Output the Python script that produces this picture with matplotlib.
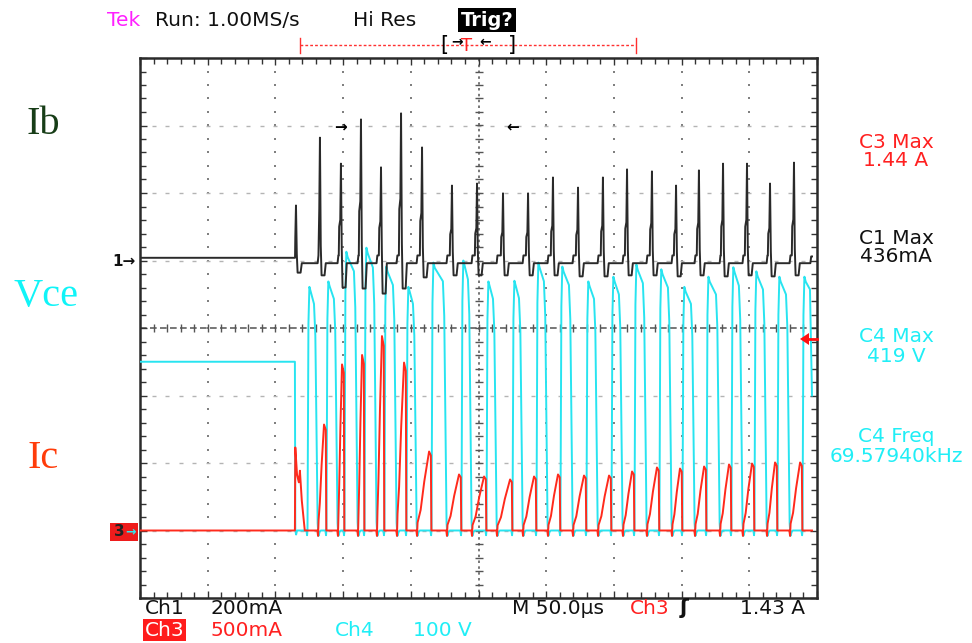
import numpy as np
import matplotlib.pyplot as plt
from matplotlib.lines import Line2D
from matplotlib.patches import Rectangle, Polygon

plt.rcParams['font.family'] = ['DejaVu Sans']

W, H = 972, 643

# scope settings (per division)
us_per_div = 50.0
ib_per_div = 200.0    # mA
ic_per_div = 0.5      # A
vce_per_div = 100.0   # V
ib_ref, ic_ref, vce_ref = 1.0, -3.0, -3.0   # ground markers, in divisions

# one entry per switching cycle, times in us from the left edge of the screen
t_spike = [115.2, 132.9, 148.4, 163.2, 178.0, 192.8, 208.3, 230.4, 248.9, 268.1, 286.6,
           305.0, 323.5, 341.9, 359.7, 378.1, 395.9, 412.8, 430.6, 448.3, 465.3, 483.0]
t_on = [114.5, 131.5, 146.2, 161.0, 175.0, 189.8, 204.6, 226.7, 245.2, 263.7, 282.9,
        301.3, 319.8, 338.3, 356.7, 374.4, 392.9, 409.9, 428.4, 445.3, 463.1, 480.1]
t_vrise = [124.1, 138.1, 151.4, 166.2, 180.9, 197.2, 215.7, 237.8, 256.3, 275.5, 293.2,
           310.9, 330.1, 348.6, 365.6, 384.0, 401.0, 418.8, 437.2, 454.2, 471.2, 489.7]
ib_peak_ma = [163, 364, 287, 418, 276, 436, 335, 222, 228, 199, 199,
              246, 216, 246, 270, 264, 222, 267, 287, 287, 228, 290]
ib_dip_ma = [-36, -44, -80, -83, -98, -83, -50, -44, -44, -44, -44,
             -44, -47, -47, -44, -44, -47, -44, -47, -44, -47, -44]
ic_peak_a = [0.615, 0.785, 1.23, 1.30, 1.44, 1.244, 0.585, 0.415, 0.40, 0.378, 0.40,
             0.415, 0.407, 0.407, 0.437, 0.467, 0.459, 0.474, 0.489, 0.496, 0.504, 0.504]
vce_peak_v = [361, 369, 413, 419, 391, 361, 397, 400, 369, 370, 397,
              391, 369, 376, 394, 387, 361, 376, 390, 384, 376, 376]
vce_idle_v = 250
ib_idle_ma = 8
t_end = 496.3
vce_end_v = 200

n = len(t_spike)


def add(ts, vs, pts):
    for t, v in pts:
        if t > ts[-1]:
            ts.append(t)
            vs.append(v)


# Ib (ch1)
ib_t, ib_v = [0.0], [ib_idle_ma]
for i in range(n):
    s, on, p, d = t_spike[i], t_on[i], ib_peak_ma[i], ib_dip_ma[i]
    pts = [(on - 0.3, -8), (on + 0.3, 15)] if i > 0 else [(on, ib_idle_ma)]
    pts += [(s - 1.6, 15), (s - 1.3, 0.35 * p), (s - 0.5, 0.42 * p), (s, p),
            (s + 0.6, 0.12 * p), (s + 1.2, d), (s + 3.4, d), (s + 4.3, -8)]
    add(ib_t, ib_v, pts)
add(ib_t, ib_v, [(t_end - 1.2, -8), (t_end - 0.6, 12), (t_end, 12)])

# Ic (ch3)
ic_t, ic_v = [0.0], [0.0]
for i in range(n):
    on, r, p = t_on[i], t_vrise[i], ic_peak_a[i]
    if i == 0:
        pts = [(on - 0.1, 0), (on + 0.2, p), (on + 1.5, 0.67 * p), (on + 2.8, 0.58 * p),
               (on + 3.6, 0.72 * p), (on + 5.0, 0.36 * p), (on + 7.2, 0.0)]
    else:
        pk = r - 2.2
        d = pk - on
        pts = [(on - 0.5, 0), (on, -0.04), (on + 0.4, 0.1 * p), (on + 0.3 * d, 0.26 * p),
               (on + 0.6 * d, 0.62 * p), (pk, p), (r - 0.9, 0.95 * p), (r - 0.5, 0.0)]
    add(ic_t, ic_v, pts)
add(ic_t, ic_v, [(t_end, 0.0)])

# Vce (ch4)
v_t, v_v = [0.0], [vce_idle_v]
add(v_t, v_v, [(t_on[0] - 0.1, vce_idle_v), (t_on[0] + 0.2, 0), (t_on[0] + 0.8, -6), (t_on[0] + 1.5, 0)])
for i in range(n):
    r, p = t_vrise[i], vce_peak_v[i]
    pts = [(r - 1.2, 0), (r - 0.7, -7), (r - 0.4, 0), (r + 0.3, 0.85 * p), (r + 1.0, p), (r + 2.0, 0.98 * p)]
    if i + 1 < n:
        f = t_on[i + 1]
        pts += [(f - 3.0, 0.93 * p), (f - 2.0, 0.8 * p), (f - 0.3, 0.03 * p),
                (f + 0.3, -8), (f + 1.2, -2), (f + 2.0, 0)]
    else:
        pts += [(t_end - 1.5, 0.95 * p), (t_end, vce_end_v)]
    add(v_t, v_v, pts)

fig = plt.figure(figsize=(W / 100, H / 100), dpi=100)
fig.patch.set_facecolor('white')
ax = fig.add_axes([140 / W, (H - 598) / H, (817 - 140) / W, (598 - 58) / H])
ax.set_xlim(0, 10 * us_per_div)
ax.set_ylim(-4, 4)

# graticule
for sp in ax.spines.values():
    sp.set_color('#2a2a2a')
    sp.set_linewidth(1.8)
ax.set_xticks(np.arange(0, 501, 50))
ax.set_yticks(np.arange(-4, 4.01, 1))
ax.set_xticks(np.arange(0, 501, 10), minor=True)
ax.set_yticks(np.arange(-4, 4.01, 0.2), minor=True)
ax.tick_params(which='both', direction='in', top=True, right=True, labelbottom=False,
               labelleft=False, color='#333333', width=1.0)
ax.tick_params(which='major', length=5)
ax.tick_params(which='minor', length=4)

ydots = np.arange(-3.8, 3.9, 0.2)
for k in range(1, 10):
    if k == 5:
        continue
    ax.plot(np.full_like(ydots, k * us_per_div), ydots, ls='none', marker='s', ms=1.5,
            color='#808080', mew=0, zorder=1)
xdots = np.arange(10, 500, 10)
for k in range(-3, 4):
    if k == 0:
        continue
    ax.plot(xdots, np.full_like(xdots, k, dtype=float), ls='none', marker='_', ms=3,
            color='#b4b4b4', mew=1.0, zorder=1)
ax.axhline(0, color='#606060', lw=1.2, dashes=(4, 2), zorder=1)
ax.axvline(250, color='#606060', lw=1.2, dashes=(1.5, 2), zorder=1)
ax.plot(xdots, np.zeros_like(xdots, dtype=float), ls='none', marker='|', ms=6, color='#555555', mew=1, zorder=1)
ax.plot(np.full_like(ydots, 250.0), ydots, ls='none', marker='_', ms=6, color='#555555', mew=1, zorder=1)

# traces
ax.plot(v_t, vce_ref + np.array(v_v) / vce_per_div, color='#28e4f0', lw=1.4, zorder=3)
ax.plot(ic_t, ic_ref + np.array(ic_v) / ic_per_div, color='#ff2a1c', lw=1.4, zorder=4)
ax.plot(ib_t, ib_ref + np.array(ib_v) / ib_per_div, color='#2a2a2a', lw=1.4, zorder=5)


def ft(x, y, s, **kw):
    kw.setdefault('va', 'center')
    kw.setdefault('ha', 'left')
    return fig.text(x / W, 1 - y / H, s, **kw)


# header
ft(107, 20, 'Tek', color='#ff20ff', fontsize=14.5)
ft(155, 20, 'Run: 1.00MS/s', color='#111111', fontsize=14.5)
ft(353, 20, 'Hi Res', color='#111111', fontsize=14.5)
ft(487, 20, 'Trig?', color='white', fontsize=14, fontweight='bold', ha='center',
   bbox=dict(boxstyle='square,pad=0.12', fc='black', ec='none'))
fig.add_artist(Line2D([300 / W, 636 / W], [1 - 45 / H] * 2, color='#ff3030', lw=1,
                      dashes=(2, 1.5), transform=fig.transFigure))
for xe in (300, 636):
    fig.add_artist(Line2D([xe / W] * 2, [1 - 38 / H, 1 - 53 / H], color='#ff3030', lw=1,
                          transform=fig.transFigure))
ft(444, 45, '[', color='black', fontsize=15, ha='center')
ft(457, 42, '→', color='black', fontsize=10, fontweight='bold', ha='center')
ft(467, 46, 'T', color='#ff2020', fontsize=13, ha='center')
ft(485, 42, '←', color='black', fontsize=10, fontweight='bold', ha='center')
ft(512, 45, ']', color='black', fontsize=15, ha='center')

# markers inside the graticule
ft(340, 127, '→', color='black', fontsize=11, fontweight='bold', ha='center')
ft(513, 127, '←', color='black', fontsize=11, fontweight='bold', ha='center')
fig.add_artist(Polygon([[800 / W, 1 - 339 / H], [809 / W, 1 - 333 / H], [809 / W, 1 - 345 / H]],
                       closed=True, fc='#ff1010', ec='none', transform=fig.transFigure))
fig.add_artist(Line2D([808 / W, 817 / W], [1 - 339 / H] * 2, color='#ff1010', lw=2,
                      transform=fig.transFigure))

# channel ground markers
ft(124, 262, '1→', color='#111111', fontsize=11, fontweight='bold', ha='center')
fig.add_artist(Rectangle((110 / W, 1 - 541 / H), 28 / W, 18 / H, fc='#ee1c1c', ec='none',
                         transform=fig.transFigure))
ft(119, 532, '3', color='#222222', fontsize=11, fontweight='bold', ha='center')
ft(131, 532, '→', color='#30e8f0', fontsize=9, fontweight='bold', ha='center')

# signal names
ft(43, 125, 'Ib', color='#173d17', fontsize=29, family='Liberation Serif', ha='center')
ft(46, 296, 'Vce', color='#10f4f8', fontsize=29, family='Liberation Serif', ha='center')
ft(43, 458, 'Ic', color='#ff3c0a', fontsize=29, family='Liberation Serif', ha='center')

# measurements
meas = [('C3 Max', '1.44 A', '#ff2020', 142),
        ('C1 Max', '436mA', '#111111', 238),
        ('C4 Max', '419 V', '#20eef6', 337),
        ('C4 Freq', '69.57940kHz', '#20eef6', 437)]
for name, val, col, y in meas:
    ft(896, y, name, color=col, fontsize=14.5, ha='center')
    ft(896, y + 19, val, color=col, fontsize=14.5, ha='center')

# bottom status
ft(145, 608, 'Ch1', color='#111111', fontsize=14.5)
ft(210, 608, '200mA', color='#111111', fontsize=14.5)
ft(512, 608, 'M 50.0µs', color='#111111', fontsize=14.5)
ft(630, 608, 'Ch3', color='#ff2020', fontsize=14.5)
ft(680, 608, 'ʃ', color='#111111', fontsize=15, fontweight='bold')
ft(740, 608, '1.43 A', color='#111111', fontsize=14.5)
ft(145, 630, 'Ch3', color='white', fontsize=14.5,
   bbox=dict(boxstyle='square,pad=0.08', fc='#ff1c1c', ec='none'))
ft(210, 630, '500mA', color='#ff2020', fontsize=14.5)
ft(335, 630, 'Ch4', color='#20eef6', fontsize=14.5)
ft(413, 630, '100 V', color='#20eef6', fontsize=14.5)

fig.savefig('out.png', dpi=100, facecolor='white')
